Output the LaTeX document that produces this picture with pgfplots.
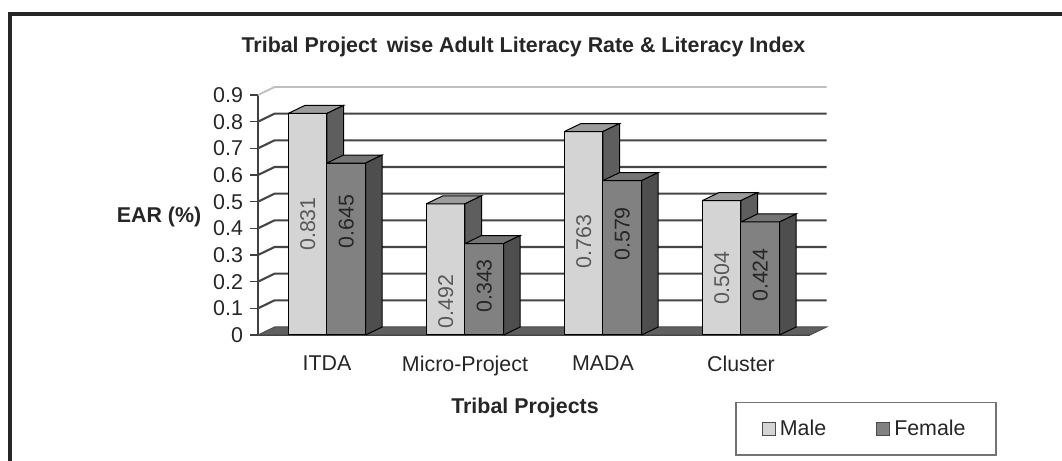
\documentclass[border=0pt]{standalone}
\usepackage{fontspec}
\setmainfont{Liberation Sans}
\usepackage{pgfplots}
\pgfplotsset{compat=1.18}
\definecolor{mfront}{HTML}{D4D4D4}
\definecolor{mtop}{HTML}{9C9C9C}
\definecolor{mside}{HTML}{5E5E5E}
\definecolor{ffront}{HTML}{818181}
\definecolor{ftop}{HTML}{747474}
\definecolor{fside}{HTML}{4E4E4E}
\definecolor{floorc}{HTML}{606060}
\definecolor{gridc}{HTML}{454545}
\newcommand\fs{\fontsize{10.7pt}{12pt}\selectfont}
\begin{document}
\begin{tikzpicture}
\useasboundingbox (0,0) rectangle (531pt,230.5pt);
\draw[black!85, line width=2pt] (5pt,223.5pt) rectangle (600pt,-30pt);
\node[anchor=base, font=\fs\bfseries, black!85] at (261.75pt,204.15pt) {Tribal Project\hspace{0.45em}wise Adult Literacy Rate \& Literacy Index};
\node[anchor=base, font=\fs\bfseries, black!85] at (79.5pt,119.2pt) {EAR (\%)};
\node[anchor=base, font=\fs\bfseries, black!85] at (262.5pt,23.85pt) {Tribal Projects};
\begin{axis}[
  at={(129pt,63pt)}, anchor=south west, scale only axis,
  width=276pt, height=120pt,
  xmin=0, xmax=4, ymin=0, ymax=0.9, clip=false,
  axis x line*=bottom, axis y line*=left,
  axis line style={black!75, line width=0.9pt},
  tick align=outside, major tick length=4pt, minor tick length=2.5pt,
  ytick={0,0.1,0.2,0.3,0.4,0.5,0.6,0.7,0.8,0.9},
  yticklabels={0,0.1,0.2,0.3,0.4,0.5,0.6,0.7,0.8,0.9},
  ytick style={black!75, line width=0.8pt},
  xtick={0.5,1.5,2.5,3.5},
  xticklabels={ITDA,Micro-Project,MADA,Cluster},
  xtick style={draw=none},
  minor xtick={1,2,3,4},
  minor x tick style={black!75, line width=0.8pt},
  xticklabel style={yshift=-3pt},
  tick label style={font=\fs, black!85},
  /pgf/number format/assume math mode=true,
  legend style={at={(0.8641,-0.2779)}, anchor=north west,
    draw=black!55, line width=0.9pt, font=\fs, text=black!85,
    inner xsep=13pt, inner ysep=6.5pt, legend columns=2,
    /tikz/every even column/.append style={column sep=23pt}},
]
% floor
\addplot[fill=floorc, draw=black!70, line width=0.5pt, forget plot]
  coordinates {(0,0) (4,0) (4.12,0.03) (0.12,0.03) (0,0)};
% side wall + back wall gridlines
\draw[gridc, line width=1.05pt] (axis cs:0,0.1) -- (axis cs:0.12,0.13) -- (axis cs:4.12,0.13);
\draw[gridc, line width=1.05pt] (axis cs:0,0.2) -- (axis cs:0.12,0.23) -- (axis cs:4.12,0.23);
\draw[gridc, line width=1.05pt] (axis cs:0,0.3) -- (axis cs:0.12,0.33) -- (axis cs:4.12,0.33);
\draw[gridc, line width=1.05pt] (axis cs:0,0.4) -- (axis cs:0.12,0.43) -- (axis cs:4.12,0.43);
\draw[gridc, line width=1.05pt] (axis cs:0,0.5) -- (axis cs:0.12,0.53) -- (axis cs:4.12,0.53);
\draw[gridc, line width=1.05pt] (axis cs:0,0.6) -- (axis cs:0.12,0.63) -- (axis cs:4.12,0.63);
\draw[gridc, line width=1.05pt] (axis cs:0,0.7) -- (axis cs:0.12,0.73) -- (axis cs:4.12,0.73);
\draw[gridc, line width=1.05pt] (axis cs:0,0.8) -- (axis cs:0.12,0.83) -- (axis cs:4.12,0.83);
\draw[black!25, line width=0.9pt] (axis cs:0,0.9) -- (axis cs:0.12,0.93) -- (axis cs:4.12,0.93);
% Male bars: front
\addplot[ybar, bar width=0.28, bar shift=0pt, fill=mfront, draw=black, line width=0.5pt,
  legend image code/.code={\draw[fill=mfront, draw=black!70, line width=0.5pt] (0pt,-3.25pt) rectangle (6.5pt,3.25pt);}]
  coordinates {(0.36,0.831) (1.36,0.492) (2.36,0.763) (3.36,0.504)};
\addlegendentry{Male}
% Male tops
\addplot[fill=mtop, draw=black, line width=0.5pt, forget plot] coordinates {(0.22,0.831) (0.50,0.831) (0.62,0.861) (0.34,0.861) (0.22,0.831)};
\addplot[fill=mtop, draw=black, line width=0.5pt, forget plot] coordinates {(1.22,0.492) (1.50,0.492) (1.62,0.522) (1.34,0.522) (1.22,0.492)};
\addplot[fill=mtop, draw=black, line width=0.5pt, forget plot] coordinates {(2.22,0.763) (2.50,0.763) (2.62,0.793) (2.34,0.793) (2.22,0.763)};
\addplot[fill=mtop, draw=black, line width=0.5pt, forget plot] coordinates {(3.22,0.504) (3.50,0.504) (3.62,0.534) (3.34,0.534) (3.22,0.504)};
% Male sides
\addplot[fill=mside, draw=black, line width=0.5pt, forget plot] coordinates {(0.50,0) (0.62,0.03) (0.62,0.861) (0.50,0.831) (0.50,0)};
\addplot[fill=mside, draw=black, line width=0.5pt, forget plot] coordinates {(1.50,0) (1.62,0.03) (1.62,0.522) (1.50,0.492) (1.50,0)};
\addplot[fill=mside, draw=black, line width=0.5pt, forget plot] coordinates {(2.50,0) (2.62,0.03) (2.62,0.793) (2.50,0.763) (2.50,0)};
\addplot[fill=mside, draw=black, line width=0.5pt, forget plot] coordinates {(3.50,0) (3.62,0.03) (3.62,0.534) (3.50,0.504) (3.50,0)};
% Female bars: front
\addplot[ybar, bar width=0.28, bar shift=0pt, fill=ffront, draw=black, line width=0.5pt,
  legend image code/.code={\draw[fill=ffront, draw=black!70, line width=0.5pt] (0pt,-3.25pt) rectangle (6.5pt,3.25pt);}]
  coordinates {(0.64,0.645) (1.64,0.343) (2.64,0.579) (3.64,0.424)};
\addlegendentry{Female}
% Female tops
\addplot[fill=ftop, draw=black, line width=0.5pt, forget plot] coordinates {(0.50,0.645) (0.78,0.645) (0.90,0.675) (0.62,0.675) (0.50,0.645)};
\addplot[fill=ftop, draw=black, line width=0.5pt, forget plot] coordinates {(1.50,0.343) (1.78,0.343) (1.90,0.373) (1.62,0.373) (1.50,0.343)};
\addplot[fill=ftop, draw=black, line width=0.5pt, forget plot] coordinates {(2.50,0.579) (2.78,0.579) (2.90,0.609) (2.62,0.609) (2.50,0.579)};
\addplot[fill=ftop, draw=black, line width=0.5pt, forget plot] coordinates {(3.50,0.424) (3.78,0.424) (3.90,0.454) (3.62,0.454) (3.50,0.424)};
% Female sides
\addplot[fill=fside, draw=black, line width=0.5pt, forget plot] coordinates {(0.78,0) (0.90,0.03) (0.90,0.675) (0.78,0.645) (0.78,0)};
\addplot[fill=fside, draw=black, line width=0.5pt, forget plot] coordinates {(1.78,0) (1.90,0.03) (1.90,0.373) (1.78,0.343) (1.78,0)};
\addplot[fill=fside, draw=black, line width=0.5pt, forget plot] coordinates {(2.78,0) (2.90,0.03) (2.90,0.609) (2.78,0.579) (2.78,0)};
\addplot[fill=fside, draw=black, line width=0.5pt, forget plot] coordinates {(3.78,0) (3.90,0.03) (3.90,0.454) (3.78,0.424) (3.78,0)};
% value labels
\node[rotate=90, font=\fs, black!65] at (axis cs:0.36,0.416) {0.831};
\node[rotate=90, font=\fs, black!85] at (axis cs:0.64,0.425) {0.645};
\node[rotate=90, font=\fs, black!65] at (axis cs:1.36,0.125) {0.492};
\node[rotate=90, font=\fs, black!85] at (axis cs:1.64,0.184) {0.343};
\node[rotate=90, font=\fs, black!65] at (axis cs:2.36,0.350) {0.763};
\node[rotate=90, font=\fs, black!85] at (axis cs:2.64,0.379) {0.579};
\node[rotate=90, font=\fs, black!65] at (axis cs:3.36,0.213) {0.504};
\node[rotate=90, font=\fs, black!85] at (axis cs:3.64,0.225) {0.424};
\end{axis}
\end{tikzpicture}
\end{document}
